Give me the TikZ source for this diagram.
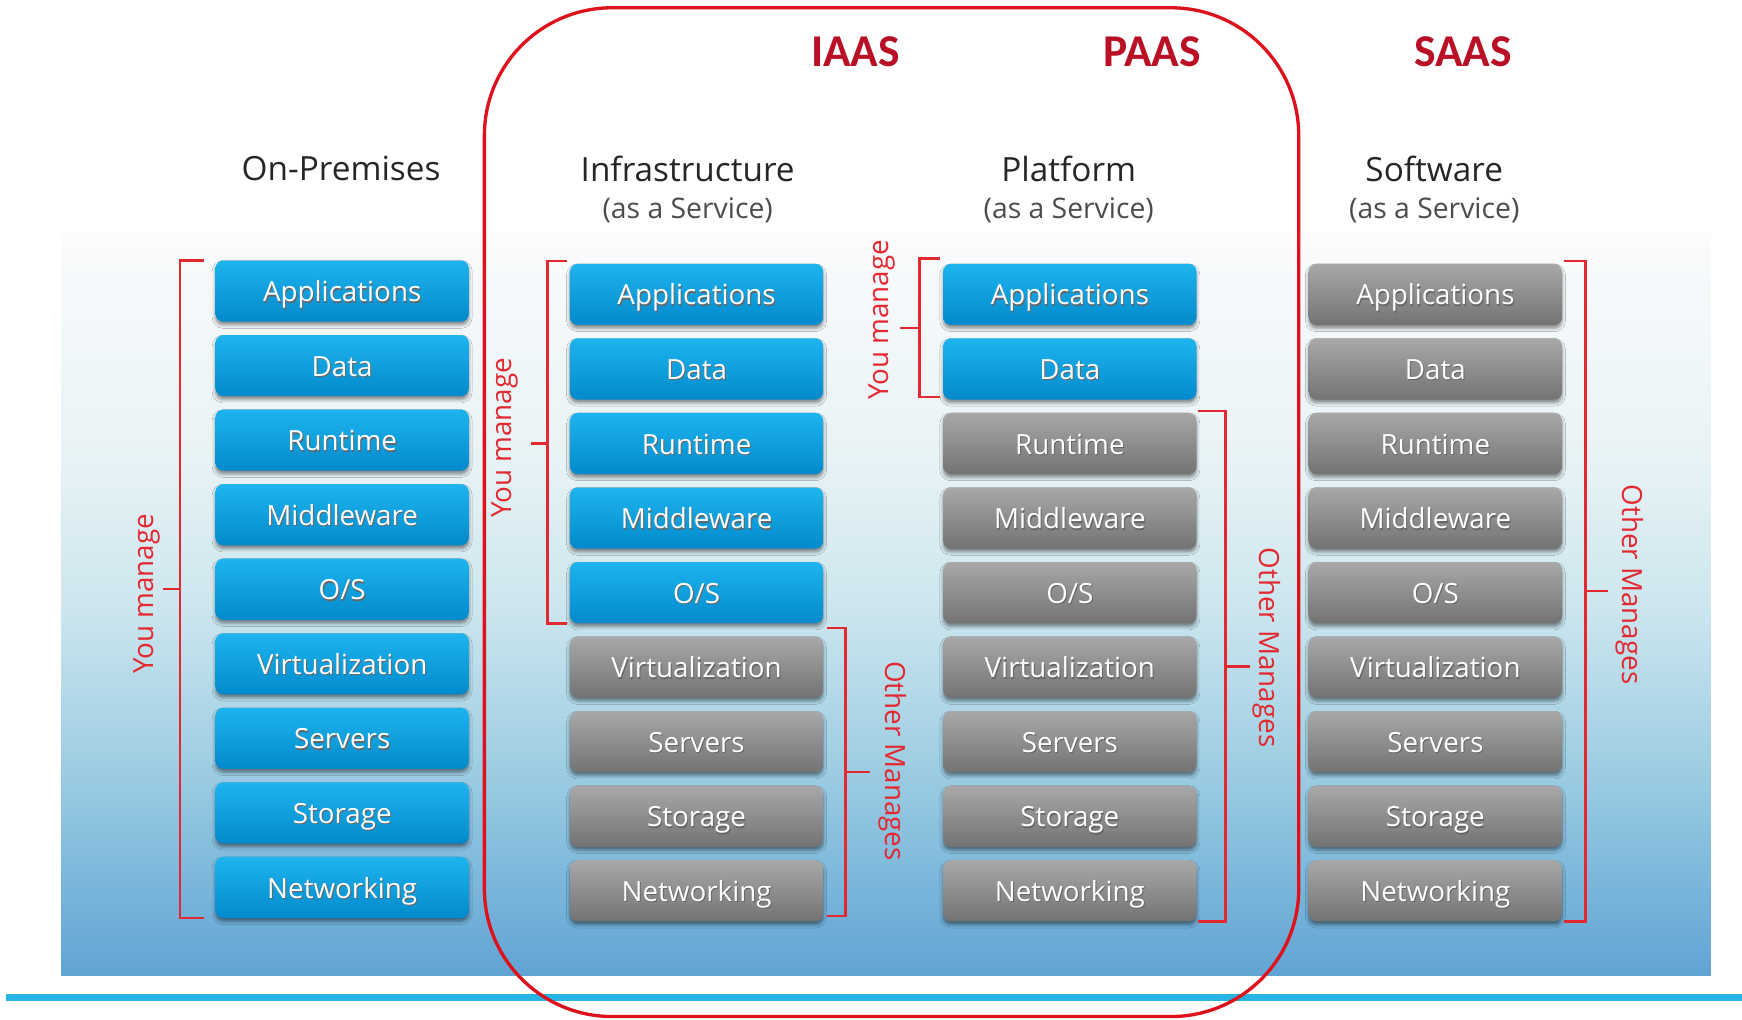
\documentclass[tikz,border=0pt]{standalone}
\usepackage{fontspec}
\setmainfont{Open Sans}
\newfontfamily\titlefont{Carlito}
\usetikzlibrary{calc,shadows.blur}

\definecolor{brkred}{RGB}{228,40,48}
\definecolor{framered}{RGB}{222,18,28}
\definecolor{ttlred}{RGB}{185,16,38}
\definecolor{bluetop}{RGB}{30,180,238}
\definecolor{bluebot}{RGB}{2,138,204}
\definecolor{graytop}{RGB}{168,168,168}
\definecolor{graybot}{RGB}{115,115,115}
\definecolor{rulecyan}{RGB}{40,180,228}
\definecolor{pbot}{RGB}{96,164,212}
\definecolor{plow}{RGB}{162,208,228}
\definecolor{pmid}{RGB}{205,230,238}
\definecolor{phigh}{RGB}{232,243,246}
\definecolor{ptop}{RGB}{250,251,252}

% panel fill: only the 25bp..75bp band of the shading covers the path
\pgfdeclareverticalshading{panelshade}{100bp}{color(0bp)=(pbot); color(25bp)=(pbot); color(40bp)=(plow); color(50bp)=(pmid); color(60bp)=(phigh); color(75bp)=(ptop); color(100bp)=(ptop)}

% white label with a soft dark shadow
\newcommand\tsh[1]{\leavevmode\rlap{\kern0.9pt\raisebox{-1.3pt}{\color{black!60}#1}}#1}

\begin{document}
\begin{tikzpicture}[x=1pt,y=-1pt,
  tile/.style={rounded corners=7pt, minimum width=228pt, minimum height=55pt,
    inner sep=0pt, text=white, font=\fontsize{25}{28}\selectfont,
    text height=19pt, text depth=0pt,
    blur shadow={shadow xshift=0pt, shadow yshift=-3pt, shadow blur radius=3pt, shadow opacity=45}},
  bluetile/.style={tile, top color=bluetop, bottom color=bluebot},
  graytile/.style={tile, top color=graytop, bottom color=graybot},
  brk/.style={draw=brkred, line width=2.2pt},
  lab/.style={text=brkred, font=\fontsize{25}{28}\selectfont, inner sep=0pt},
  ttl/.style={text=ttlred, font=\titlefont\bfseries\fontsize{41}{44}\selectfont, inner sep=0pt},
  hdr/.style={text=black!85, font=\fontsize{30}{34}\selectfont, inner sep=0pt},
  sub/.style={text=black!70, font=\fontsize{25.5}{30}\selectfont, inner sep=0pt}
]
\useasboundingbox (0,0) rectangle (1568,918);

% background panel and bottom rule
\shade[shading=panelshade] (55,210) rectangle (1540,878);
\draw[rulecyan, line width=6pt] (5,898) -- (1568,898);

% service model titles
\node[ttl] (iaas) at (770,47) {IAAS};
\node[ttl] (paas) at (1037,47) {PAAS};
\node[ttl] (saas) at (1317,47) {SAAS};

% column headers
\node[hdr] (hop) at (307,152) {On-Premises};
\node[hdr] (hia) at (619,152) {Infrastructure};
\node[sub] (sia) at (619,189) {(as a Service)};
\node[hdr] (hpa) at (962,152) {Platform};
\node[sub] (spa) at (962,189) {(as a Service)};
\node[hdr] (hsa) at (1291,152) {Software};
\node[sub] (ssa) at (1291,189) {(as a Service)};

% the four stacks
\foreach \n [count=\i] in {Applications,Data,Runtime,Middleware,O/S,Virtualization,Servers,Storage,Networking}{
  \node[bluetile] (op\i) at (308,{262+67.1*(\i-1)}) {\tsh{\n}};
  \ifnum\i<6 \tikzset{tilestyle/.style={bluetile}}\else\tikzset{tilestyle/.style={graytile}}\fi
  \node[tilestyle] (ia\i) at (627,{265+67.1*(\i-1)}) {\tsh{\n}};
  \ifnum\i<3 \tikzset{tilestyle/.style={bluetile}}\else\tikzset{tilestyle/.style={graytile}}\fi
  \node[tilestyle] (pa\i) at (963,{265+67.1*(\i-1)}) {\tsh{\n}};
  \node[graytile] (sa\i) at (1292,{265+67.1*(\i-1)}) {\tsh{\n}};
}

% On-Premises: you manage everything
\draw[brk] ([xshift=-10pt]op1.north west) -- ++(-22,0) |- ([xshift=-10pt]op9.south west);
\coordinate (opM) at ($(op1.north west)!0.5!(op9.south west)+(-32,0)$);
\draw[brk] (opM) -- ++(-15,0) coordinate (opL);
\node[lab, rotate=90] (opY) at ($(opL)+(-15,4)$) {You manage};

% IaaS: you manage the top five
\draw[brk] ([xshift=-2pt,yshift=2.5pt]ia1.north west) -- ++(-18,0) |- ([xshift=-2pt]ia5.south west);
\coordinate (iaM) at ($(ia1.north west)!0.5!(ia5.south west)+(-20,0)$);
\draw[brk] (iaM) -- ++(-15,0) coordinate (iaL);
\node[lab, rotate=90] (iaY) at ($(iaL)+(-23,-5)$) {You manage};

% IaaS: the provider manages the rest
\draw[brk] ([xshift=3pt,yshift=7.5pt]ia6.north east) -- ++(17,0) |- ([xshift=3pt,yshift=5pt]ia9.south east);
\coordinate (iaN) at ($([yshift=7.5pt]ia6.north east)!0.5!([yshift=5pt]ia9.south east)+(20,0)$);
\draw[brk] (iaN) -- ++(22,0) coordinate (iaR);
\node[lab, rotate=-90] (iaO) at ($(iaR)+(20,-10)$) {Other Manages};

% PaaS: you manage applications and data
\draw[brk] ([xshift=-3pt,yshift=4.5pt]pa1.north west) -- ++(-18,0) |- ([xshift=-3pt,yshift=2.5pt]pa2.south west);
\coordinate (paM) at ($([yshift=4.5pt]pa1.north west)!0.5!([yshift=2.5pt]pa2.south west)+(-21,0)$);
\draw[brk] (paM) -- ++(-18,0) coordinate (paL);
\node[lab, rotate=90] (paY) at ($(paL)+(-16,-7)$) {You manage};

% PaaS: the provider manages the rest
\draw[brk] ([xshift=1pt,yshift=1.5pt]pa3.north east) -- ++(25,0) |- ([xshift=1pt]pa9.south east);
\coordinate (paN) at ($([yshift=1.5pt]pa3.north east)!0.5!(pa9.south east)+(26,0)$);
\draw[brk] (paN) -- ++(22,0) coordinate (paR);
\node[lab, rotate=-90] (paO) at ($(paR)+(15,-17)$) {Other Manages};

% SaaS: the provider manages everything
\draw[brk] ([xshift=2pt,yshift=2.5pt]sa1.north east) -- ++(19,0) |- ([xshift=2pt]sa9.south east);
\coordinate (saN) at ($([yshift=2.5pt]sa1.north east)!0.5!(sa9.south east)+(21,0)$);
\draw[brk] (saN) -- ++(20,0) coordinate (saR);
\node[lab, rotate=-90] (saO) at ($(saR)+(20,-6)$) {Other Manages};

% cloud boundary around IaaS and PaaS
\draw[framered, line width=3pt, rounded corners=115pt] (436,7) rectangle (1169,915);
\end{tikzpicture}
\end{document}
